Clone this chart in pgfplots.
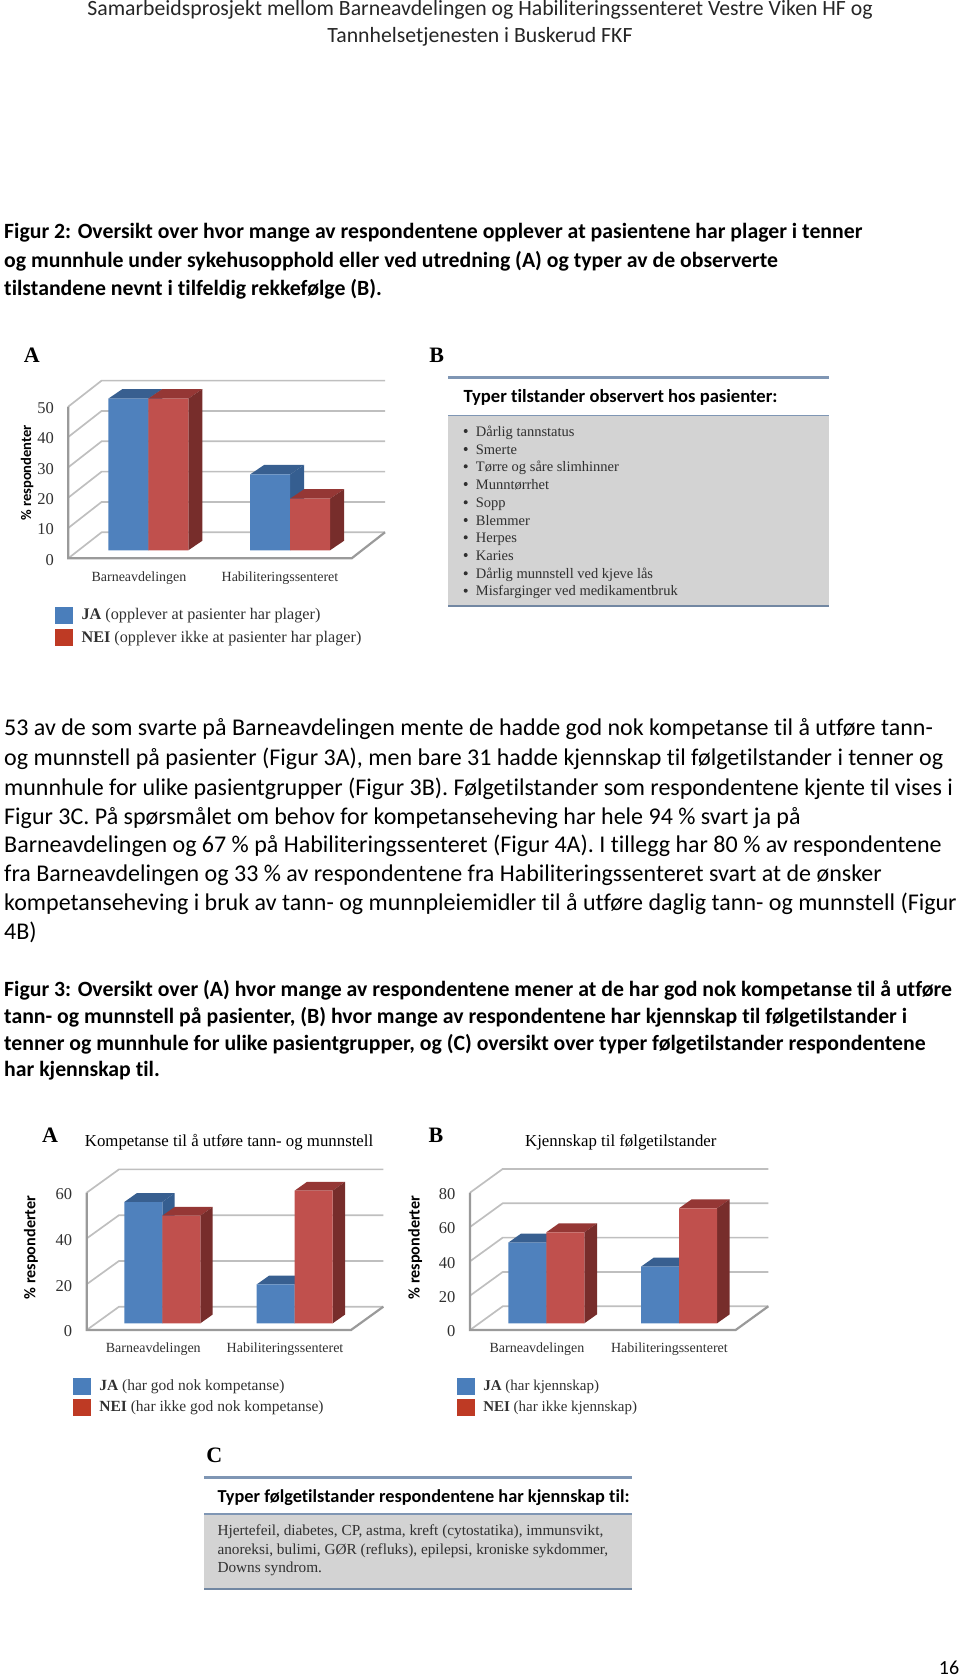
\documentclass[border=0pt]{standalone}
\usepackage{fontspec}
\usepackage{pgfplots}
\usepackage{pgfplotstable}
\pgfplotsset{compat=1.18}
\setmainfont{Liberation Serif}
\newfontfamily\calib[RawFeature={-liga}]{Carlito}
\definecolor{bfront}{HTML}{4F81BD}\definecolor{btop}{HTML}{385F90}\definecolor{bside}{HTML}{355E90}
\definecolor{rfront}{HTML}{C0504D}\definecolor{rtop}{HTML}{953735}\definecolor{rside}{HTML}{772D2B}
\definecolor{keyb}{HTML}{4A7EBB}\definecolor{keyr}{HTML}{BE3A24}
\definecolor{gridc}{HTML}{BFBFBF}\definecolor{axisc}{HTML}{9A9A9A}
\definecolor{panel}{HTML}{D3D3D3}\definecolor{rulec}{HTML}{7F96B4}\definecolor{imgtxt}{HTML}{303030}
\pgfplotstableread{
x ja nei
0 50 50
1 25 17
}\dataA
\pgfplotstableread{
x ja nei
0 53 47
1 17 58
}\dataB
\pgfplotstableread{
x ja nei
0 47 53
1 33 67
}\dataC
\newcommand{\gridl}[1]{%
 \pgfmathsetmacro\ya{\fy+#1}\pgfmathsetmacro\yb{\ya+\wdy}\pgfmathsetmacro\xb{\xl+\wdx}%
 \edef\tmp{\noexpand\addplot[gridc,line width=1.7pt,forget plot] coordinates {(\xl,\ya)(\xb,\yb)(\xr,\yb)};}\tmp}
\newcommand{\frameL}[1]{%
 \pgfmathsetmacro\ya{\fy+#1}\pgfmathsetmacro\xb{\xr-\wdx}\pgfmathsetmacro\yb{\fy+\wdy}%
 \edef\tmp{\noexpand\addplot[axisc,line width=2.2pt,forget plot] coordinates {(\xl,\ya)(\xl,\fy)(\xb,\fy)(\xr,\yb)};}\tmp}
\newcommand{\threed}[6]{% table,row,col,offset,top,side
 \pgfplotstablegetelem{#2}{#3}\of{#1}\let\val\pgfplotsretval
 \pgfmathsetmacro\xa{#2+(#4)*\bw}\pgfmathsetmacro\xc{\xa+\bw}%
 \pgfmathsetmacro\xd{\xa+\bdx}\pgfmathsetmacro\xe{\xc+\bdx}\pgfmathsetmacro\yt{\val+\bdy}%
 \edef\tmp{\noexpand\addplot[fill=#5,draw=none,forget plot] coordinates {(\xa,\val)(\xc,\val)(\xe,\yt)(\xd,\yt)} --cycle;}\tmp
 \edef\tmp{\noexpand\addplot[fill=#6,draw=none,forget plot] coordinates {(\xc,0)(\xc,\val)(\xe,\yt)(\xe,\bdy)} --cycle;}\tmp}
\newcommand{\bars}[1]{%
 \threed{#1}{0}{ja}{-1}{btop}{bside}\threed{#1}{1}{ja}{-1}{btop}{bside}%
 \pgfmathsetmacro\sh{-\bw/2}%
 \edef\tmp{\noexpand\addplot[ybar,bar width=\bw,bar shift=\sh,fill=bfront,draw=none,forget plot] table[x=x,y=ja]{\noexpand#1};}\tmp
 \threed{#1}{0}{nei}{0}{rtop}{rside}\threed{#1}{1}{nei}{0}{rtop}{rside}%
 \pgfmathsetmacro\sh{\bw/2}%
 \edef\tmp{\noexpand\addplot[ybar,bar width=\bw,bar shift=\sh,fill=rfront,draw=none,forget plot] table[x=x,y=nei]{\noexpand#1};}\tmp}
\newcommand{\keys}[2]{%
 \addlegendimage{legend image code/.code={\fill[keyb] (0pt,-8pt) rectangle (17pt,8pt);}}\addlegendentry{#1}
 \addlegendimage{legend image code/.code={\fill[keyr] (0pt,-8pt) rectangle (17pt,8pt);}}\addlegendentry{#2}}
\pgfplotsset{chart3d/.style={
 scale only axis,clip=false,axis line style={draw=none},tick style={draw=none},major tick length=0pt,
 enlargelimits=false,
 xticklabel style={font=\fontsize{14}{14}\selectfont,text=imgtxt,anchor=north,yshift=-9.5pt},
 yticklabel style={font=\fontsize{16.5}{16.5}\selectfont,text=imgtxt,anchor=east,xshift=-11pt,yshift=-1.5pt},
 legend cell align=left,
 legend style={draw=none,fill=none,inner sep=0pt,row sep=4.5pt,font=\fontsize{15.5}{15.5}\selectfont,text=imgtxt,
   nodes={inner sep=0pt},/tikz/column 2/.style={column sep=0pt},/tikz/column 1/.style={column sep=9pt}},
 title style={font=\fontsize{16.8}{16.8}\selectfont,anchor=center},
}}
\newcommand{\tl}[3]{\node[anchor=base west,inner sep=0pt] at (#1,#2) {#3};}
\begin{document}
\begin{tikzpicture}[x=1pt,y=-1pt]
\path[use as bounding box] (0,0) rectangle (960,1678);
% page text
\begin{scope}[font=\calib\fontsize{21.76}{24}\selectfont,text=black,yshift=-1pt]
\node[anchor=base,inner sep=0pt,text=black!85] at (480,15) {Samarbeidsprosjekt mellom Barneavdelingen og Habiliteringssenteret Vestre Viken HF og};
\node[anchor=base,inner sep=0pt,text=black!85] at (480,42) {Tannhelsetjenesten i Buskerud FKF};
\tl{4}{237}{\bfseries Figur 2: Oversikt over hvor mange av respondentene opplever at pasientene har plager i tenner}
\tl{4}{266}{\bfseries og munnhule under sykehusopphold eller ved utredning (A) og typer av de observerte}
\tl{4}{294}{\bfseries tilstandene nevnt i tilfeldig rekkefølge (B).}
\tl{4}{995}{\bfseries Figur 3: Oversikt over (A) hvor mange av respondentene mener at de har god nok kompetanse til å utføre}
\tl{4}{1022}{\bfseries tann- og munnstell på pasienter, (B) hvor mange av respondentene har kjennskap til følgetilstander i}
\tl{4}{1049}{\bfseries tenner og munnhule for ulike pasientgrupper, og (C) oversikt over typer følgetilstander respondentene}
\tl{4}{1075}{\bfseries har kjennskap til.}
\end{scope}
\node[anchor=base,inner sep=0pt,font=\calib\fontsize{20}{20}\selectfont] at (949,1674) {16};
\begin{scope}[font=\calib\fontsize{24}{28}\selectfont,text=black,yshift=-1pt]
\tl{4}{734}{53 av de som svarte på Barneavdelingen mente de hadde god nok kompetanse til å utføre tann-}
\tl{4}{764}{og munnstell på pasienter (Figur 3A), men bare 31 hadde kjennskap til følgetilstander i tenner og}
\tl{4}{794}{munnhule for ulike pasientgrupper (Figur 3B). Følgetilstander som respondentene kjente til vises i}
\tl{4}{823}{Figur 3C. På spørsmålet om behov for kompetanseheving har hele 94 \% svart ja på}
\tl{4}{851}{Barneavdelingen og 67 \% på Habiliteringssenteret (Figur 4A). I tillegg har 80 \% av respondentene}
\tl{4}{880}{fra Barneavdelingen og 33 \% av respondentene fra Habiliteringssenteret svart at de ønsker}
\tl{4}{909}{kompetanseheving i bruk av tann- og munnpleiemidler til å utføre daglig tann- og munnstell (Figur}
\tl{4}{938}{4B)}
\end{scope}
% panel letters
\begin{scope}[font=\bfseries\fontsize{22}{22}\selectfont]
\node at (31.7,355) {A};\node at (436.7,355) {B};
\node at (50,1135) {A};\node at (436,1135) {B};\node at (214.3,1455) {C};
\end{scope}
% panel B
\fill[panel] (448.3,415.3) rectangle (829.3,606);
\draw[rulec,line width=2.6pt] (448.3,377.7)--(829.3,377.7);
\draw[rulec,line width=1.6pt] (448.3,415.3)--(829.3,415.3);
\draw[rulec!90!black,line width=2.6pt] (448.3,606)--(829.3,606);
\node[anchor=west,inner sep=0pt,font=\calib\bfseries\fontsize{18.6}{18.6}\selectfont] at (463.3,397.7) {Typer tilstander observert hos pasienter:};
\begin{scope}[font=\fontsize{14.5}{14.5}\selectfont,text=imgtxt]
\foreach \yy/\tt in {436/Dårlig tannstatus,454/Smerte,471.3/Tørre og såre slimhinner,489/Munntørrhet,507.3/Sopp,525/Blemmer,542.3/Herpes,560/Karies,578.3/Dårlig munnstell  ved kjeve lås,595.7/Misfarginger  ved medikamentbruk}{
 \fill[imgtxt] (465.7,\yy-5) circle (2);
 \node[anchor=base west,inner sep=0pt] at (475.7,\yy) {\tt};}
\end{scope}
% panel C
\fill[panel] (204,1514) rectangle (632.3,1589);
\draw[rulec,line width=2.6pt] (204,1477.7)--(632.3,1477.7);
\draw[rulec,line width=1.6pt] (204,1514)--(632.3,1514);
\draw[rulec!90!black,line width=2.6pt] (204,1589)--(632.3,1589);
\node[anchor=west,inner sep=0pt,font=\calib\bfseries\fontsize{18.3}{18.3}\selectfont] at (217.3,1497.7) {Typer følgetilstander respondentene har kjennskap til:};
\begin{scope}[font=\fontsize{15.3}{15.3}\selectfont,text=imgtxt]
\tl{217.3}{1535.5}{Hjertefeil, diabetes, CP, astma, kreft (cytostatika), immunsvikt,}
\tl{217.3}{1554}{anoreksi, bulimi, GØR (refluks), epilepsi, kroniske sykdommer,}
\tl{217.3}{1572.5}{Downs syndrom.}
\end{scope}
% Figure 2A
\def\xl{-0.5646}\def\xr{1.670}\def\fy{-2.64}\def\wdx{0.235}\def\wdy{8.57}\def\bdx{0.0988}\def\bdy{3.13}\def\bw{0.282}
\begin{axis}[chart3d,at={(68.3pt,-558.3pt)},anchor=south west,width=316.7pt,height=177.6pt,
 xmin=-0.5646,xmax=1.670,ymin=-2.64,ymax=55.9,
 xtick={-0.066,0.929},xticklabels={Barneavdelingen,Habiliteringssenteret},
 ytick={-2.64,7.36,17.36,27.36,37.36,47.36},yticklabels={0,10,20,30,40,50},
 ylabel={\% respondenter},
 ylabel style={at={(axis description cs:-0.130,0.481)},anchor=center,font=\calib\bfseries\fontsize{14.6}{14.6}\selectfont},
 legend style={at={(-0.042,-0.272)},anchor=north west,font=\fontsize{16.2}{16.2}\selectfont,row sep=6pt}]
\keys{\textbf{JA} (opplever at pasienter har plager)}{\textbf{NEI} (opplever ikke at pasienter har plager)}
\gridl{0}\gridl{10}\gridl{20}\gridl{30}\gridl{40}\gridl{50}
\frameL{50}
\bars{\dataA}
\end{axis}
% Figure 3A
\def\xl{-0.571}\def\xr{1.669}\def\fy{-2.927}\def\wdx{0.244}\def\wdy{10.18}\def\bdx{0.0937}\def\bdy{3.84}\def\bw{0.287}
\begin{axis}[chart3d,at={(86.7pt,-1330pt)},anchor=south west,width=296.6pt,height=160.7pt,
 xmin=-0.571,xmax=1.669,ymin=-2.927,ymax=67.28,
 xtick={-0.068,0.927},xticklabels={Barneavdelingen,Habiliteringssenteret},
 ytick={-2.927,17.073,37.073,57.073},yticklabels={0,20,40,60},
 ylabel={\% responderter},
 ylabel style={at={(axis description cs:-0.188,0.513)},anchor=center,font=\calib\bfseries\fontsize{16.2}{16.2}\selectfont},
 title={Kompetanse til å utføre tann- og munnstell},title style={at={(axis description cs:0.48,1.132)},anchor=center},
 legend style={at={(-0.047,-0.296)},anchor=north west}]
\keys{\textbf{JA} (har god nok kompetanse)}{\textbf{NEI} (har ikke god nok kompetanse)}
\gridl{0}\gridl{20}\gridl{40}\gridl{60}
\frameL{60}
\bars{\dataB}
\end{axis}
% Figure 3B
\def\xl{-0.575}\def\xr{1.673}\def\fy{-3.902}\def\wdx{0.2464}\def\wdy{13.8}\def\bdx{0.0957}\def\bdy{5.24}\def\bw{0.2864}
\begin{axis}[chart3d,at={(470pt,-1330pt)},anchor=south west,width=298.3pt,height=160.7pt,
 xmin=-0.575,xmax=1.673,ymin=-3.902,ymax=89.69,
 xtick={-0.07,0.928},xticklabels={Barneavdelingen,Habiliteringssenteret},
 ytick={-3.902,16.098,36.098,56.098,76.098},yticklabels={0,20,40,60,80},
 ylabel={\% responderter},
 ylabel style={at={(axis description cs:-0.184,0.513)},anchor=center,font=\calib\bfseries\fontsize{16.2}{16.2}\selectfont},
 title={Kjennskap til følgetilstander},title style={at={(axis description cs:0.5055,1.132)},anchor=center},
 legend style={at={(-0.0446,-0.296)},anchor=north west,font=\fontsize{15}{15}\selectfont}]
\keys{\textbf{JA} (har kjennskap)}{\textbf{NEI} (har ikke kjennskap)}
\gridl{0}\gridl{20}\gridl{40}\gridl{60}\gridl{80}
\frameL{80}
\bars{\dataC}
\end{axis}
\end{tikzpicture}
\end{document}
